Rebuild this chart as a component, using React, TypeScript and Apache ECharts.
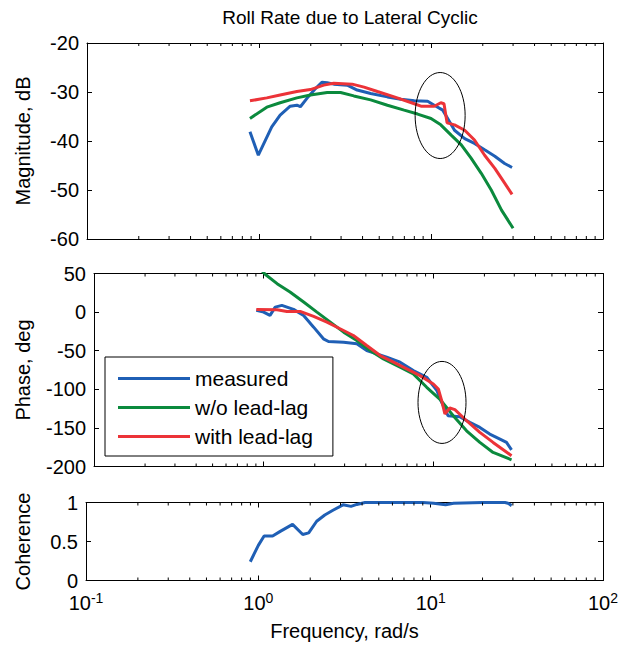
import React, { useEffect, useRef } from "react";
import * as echarts from "echarts";

// ---------- Data ----------
const magMeasuredFreq = [0.886, 0.991, 1.186, 1.327, 1.518, 1.66, 1.74, 1.9, 2.13, 2.32, 2.49, 2.72, 3.26, 3.72, 4.46, 5.58, 6.68, 8.0, 9.56, 10.45, 11.7, 12.5, 13.7, 15.7, 17.9, 20.5, 23.5, 26.8, 29.6];
const magMeasuredDb = [-38.1, -42.9, -37.1, -34.7, -32.9, -32.7, -33.0, -31.3, -29.3, -28.0, -28.1, -28.4, -28.6, -29.6, -30.3, -31.0, -31.5, -31.8, -31.9, -32.7, -33.7, -35.4, -37.8, -39.5, -40.5, -41.8, -43.1, -44.6, -45.4];

const magNoLeadFreq = [0.886, 1.11, 1.327, 1.66, 1.99, 2.49, 2.98, 3.56, 4.46, 5.58, 6.98, 8.36, 10.0, 11.4, 13.1, 15.0, 17.1, 19.6, 22.4, 25.7, 30.0];
const magNoLeadDb = [-35.4, -33.1, -32.2, -31.2, -30.6, -30.1, -30.1, -30.8, -31.6, -32.7, -33.7, -34.5, -35.4, -36.7, -38.8, -40.8, -43.5, -46.6, -50.0, -54.1, -57.8];

const magLeadFreq = [0.886, 1.11, 1.327, 1.66, 1.99, 2.38, 2.72, 3.48, 4.08, 4.88, 6.11, 8.0, 8.74, 10.45, 11.4, 11.9, 12.4, 13.7, 15.7, 17.9, 20.5, 23.5, 26.8, 29.6];
const magLeadDb = [-31.8, -31.2, -30.6, -29.9, -29.5, -28.6, -28.2, -28.4, -29.0, -29.9, -31.0, -32.4, -32.9, -32.9, -32.2, -32.4, -36.3, -36.7, -37.8, -39.8, -42.9, -45.6, -48.6, -50.9];

const phMeasuredFreq = [0.905, 1.0, 1.09, 1.17, 1.28, 1.5, 1.72, 1.97, 2.25, 2.41, 2.96, 3.54, 4.05, 4.64, 5.31, 6.37, 7.62, 9.14, 10.5, 11.2, 12.2, 14.3, 16.4, 18.8, 21.5, 24.7, 27.0, 28.9];
const phMeasuredDeg = [2.2, 0, -4.3, 6.5, 8.7, 3.5, -4.3, -19.5, -34.6, -38.1, -39.0, -41.1, -49.8, -54.1, -58.4, -64.9, -75.8, -84.4, -101.7, -116.9, -134.2, -135.5, -142.9, -149.4, -158.0, -164.5, -168.8, -178.4];

const phNoLeadFreq = [0.886, 1.02, 1.2, 1.43, 1.72, 2.06, 2.47, 2.96, 3.54, 4.24, 5.08, 6.37, 7.62, 9.14, 10.9, 13.1, 15.7, 18.8, 22.5, 28.9];
const phNoLeadDeg = [64, 49, 36.8, 26, 13, 0, -13, -26, -36.8, -49.8, -60.6, -71.4, -80.1, -97.4, -112.6, -134.2, -153.7, -168.8, -181.8, -191.3];

const phLeadFreq = [0.905, 1.2, 1.37, 1.64, 1.97, 2.36, 2.82, 3.38, 4.05, 4.86, 5.82, 6.97, 8.35, 10.0, 10.7, 11.2, 11.7, 12.5, 13.4, 15.7, 18.8, 22.5, 28.9];
const phLeadDeg = [3.5, 3.0, 0.9, 0.9, -5.6, -13.0, -21.6, -30.3, -43.3, -56.3, -64.9, -73.6, -82.3, -93.1, -99.6, -114.7, -132.0, -124.2, -126.4, -140.7, -155.8, -168.8, -186.1];

const cohFreq = [0.898, 1.0, 1.08, 1.21, 1.34, 1.58, 1.81, 1.96, 2.18, 2.43, 2.71, 3.1, 3.45, 3.73, 4.16, 6.0, 9.0, 10.4, 12.2, 13.6, 20.0, 27.0, 28.1, 29.5];
const cohValue = [0.24, 0.45, 0.57, 0.57, 0.63, 0.72, 0.59, 0.61, 0.76, 0.84, 0.9, 0.97, 0.95, 0.975, 1.0, 1.0, 1.0, 0.99, 0.97, 0.99, 1.0, 1.0, 0.99, 0.96];

// Annotation ellipses (center in data units)
const magEllipse = [[11.3, -34.8]];
const phEllipse = [[11.25, -117]];

const seriesNames = ["measured", "w/o lead-lag", "with lead-lag"];
const xMin = 0.1;
const xMax = 100;
const magRange = [-60, -20, 10];
const phRange = [-200, 50, 50];
const cohRange = [0, 1, 0.5];
const minorTickFreqs = [0.2, 0.3, 0.4, 0.5, 0.6, 0.7, 0.8, 0.9, 2, 3, 4, 5, 6, 7, 8, 9, 20, 30, 40, 50, 60, 70, 80, 90];

const BLUE = "#1f5fb5";
const GREEN = "#0b8a3d";
const RED = "#ec3338";
const FONT = "Liberation Sans, Arial, Helvetica, sans-serif";

const zip = (xs: number[], ys: number[]) => xs.map((x, i) => [x, ys[i]]);

export default function App() {
  const ref = useRef<HTMLDivElement>(null);

  useEffect(() => {
    if (!ref.current) return;
    const chart = echarts.init(ref.current, undefined, { renderer: "svg" });

    const grids = [
      { left: 87, right: 25, top: 43, height: 196 },
      { left: 94, right: 25, top: 273.5, height: 193 },
      { left: 86, right: 25, top: 502.5, height: 78 },
    ];
    const ranges = [magRange, phRange, cohRange];
    const yNames = ["Magnitude, dB", "Phase, deg", "Coherence"];
    const nameGaps = [54, 61, 53];

    const xAxes: any[] = [];
    const yAxes: any[] = [];
    grids.forEach((g, i) => {
      const isBottom = i === 2;
      const baseX = {
        type: "log",
        logBase: 10,
        min: xMin,
        max: xMax,
        gridIndex: i,
        axisLine: { show: true, onZero: false, lineStyle: { color: "#000", width: 1 } },
        axisTick: { show: true, inside: true, length: 5, lineStyle: { color: "#000" } },
        splitLine: { show: false },
        minorTick: { show: false },
      };
      xAxes.push({
        ...baseX,
        position: "bottom",
        axisLabel: isBottom
          ? {
              show: true,
              margin: 10,
              color: "#000",
              fontFamily: FONT,
              formatter: (v: number) => `{b|10}{s|${Math.round(Math.log10(v))}}`,
              rich: {
                b: { fontSize: 20, fontFamily: FONT, color: "#000" },
                s: { fontSize: 14, fontFamily: FONT, color: "#000", verticalAlign: "top", padding: [0, 0, 10, 0] },
              },
            }
          : { show: false },
        name: isBottom ? "Frequency, rad/s" : "",
        nameLocation: "middle",
        nameGap: 40,
        nameTextStyle: { fontSize: 20, fontFamily: FONT, color: "#000" },
      });
      xAxes.push({ ...baseX, position: "top", axisLabel: { show: false } });
      const [mn, mx, iv] = ranges[i];
      const baseY = {
        type: "value",
        min: mn,
        max: mx,
        interval: iv,
        gridIndex: i,
        axisLine: { show: true, onZero: false, lineStyle: { color: "#000", width: 1 } },
        axisTick: { show: true, inside: true, length: 5, lineStyle: { color: "#000" } },
        splitLine: { show: false },
      };
      yAxes.push({
        ...baseY,
        position: "left",
        axisLabel: { show: true, margin: 8, fontSize: 20, fontFamily: FONT, color: "#000" },
        name: yNames[i],
        nameLocation: "middle",
        nameRotate: 90,
        nameGap: nameGaps[i],
        nameTextStyle: { fontSize: 20, fontFamily: FONT, color: "#000" },
      });
      yAxes.push({ ...baseY, position: "right", axisLabel: { show: false } });
    });

    const lineSeries = (name: string, data: number[][], color: string, g: number) => ({
      type: "line",
      name,
      data,
      xAxisIndex: 2 * g,
      yAxisIndex: 2 * g,
      showSymbol: false,
      symbol: "none",
      clip: true,
      lineStyle: { color, width: 3 },
      itemStyle: { color },
      z: 3,
    });

    const minorTickSeries = (g: number) => ({
      type: "custom",
      xAxisIndex: 2 * g,
      yAxisIndex: 2 * g,
      silent: true,
      z: 6,
      clip: false,
      encode: { x: 0, y: 1 },
      data: minorTickFreqs.map((f) => [f, ranges[g][0]]),
      renderItem: (_p: any, api: any) => {
        const f = api.value(0);
        const b = api.coord([f, ranges[g][0]]);
        const t = api.coord([f, ranges[g][1]]);
        return {
          type: "group",
          children: [
            { type: "line", shape: { x1: b[0], y1: b[1], x2: b[0], y2: b[1] - 3 }, style: { stroke: "#000", lineWidth: 1 } },
            { type: "line", shape: { x1: t[0], y1: t[1], x2: t[0], y2: t[1] + 3 }, style: { stroke: "#000", lineWidth: 1 } },
          ],
        };
      },
    });

    const ellipseSeries = (g: number, data: number[][], rx: number, ry: number) => ({
      type: "custom",
      xAxisIndex: 2 * g,
      yAxisIndex: 2 * g,
      silent: true,
      z: 7,
      clip: false,
      encode: { x: 0, y: 1 },
      data,
      renderItem: (_p: any, api: any) => {
        const c = api.coord([api.value(0), api.value(1)]);
        return {
          type: "ellipse",
          shape: { cx: c[0], cy: c[1], rx, ry },
          style: { fill: "none", stroke: "#000", lineWidth: 1 },
        };
      },
    });

    chart.setOption({
      animation: false,
      backgroundColor: "#fff",
      title: {
        text: "Roll Rate due to Lateral Cyclic",
        left: 345,
        textAlign: "center",
        top: 3,
        textStyle: { fontSize: 19, fontWeight: "normal", fontFamily: FONT, color: "#000" },
      },
      legend: {
        data: seriesNames,
        orient: "vertical",
        left: 105,
        top: 357,
        icon: "rect",
        itemWidth: 72,
        itemHeight: 3,
        itemGap: 8,
        padding: [11, 20, 9, 13],
        borderColor: "#000",
        borderWidth: 1,
        borderRadius: 0,
        backgroundColor: "#fff",
        textStyle: { fontSize: 21, fontFamily: FONT, color: "#000" },
        z: 10,
      },
      grid: grids,
      xAxis: xAxes,
      yAxis: yAxes,
      series: [
        lineSeries(seriesNames[0], zip(magMeasuredFreq, magMeasuredDb), BLUE, 0),
        lineSeries(seriesNames[1], zip(magNoLeadFreq, magNoLeadDb), GREEN, 0),
        lineSeries(seriesNames[2], zip(magLeadFreq, magLeadDb), RED, 0),
        lineSeries(seriesNames[0], zip(phMeasuredFreq, phMeasuredDeg), BLUE, 1),
        lineSeries(seriesNames[1], zip(phNoLeadFreq, phNoLeadDeg), GREEN, 1),
        lineSeries(seriesNames[2], zip(phLeadFreq, phLeadDeg), RED, 1),
        lineSeries("coherence", zip(cohFreq, cohValue), BLUE, 2),
        minorTickSeries(0),
        minorTickSeries(1),
        minorTickSeries(2),
        ellipseSeries(0, magEllipse, 25, 43),
        ellipseSeries(1, phEllipse, 24, 41),
      ],
    });

    return () => chart.dispose();
  }, []);

  return <div ref={ref} style={{ position: "absolute", left: 0, top: 0, width: 628, height: 650 }} />;
}
